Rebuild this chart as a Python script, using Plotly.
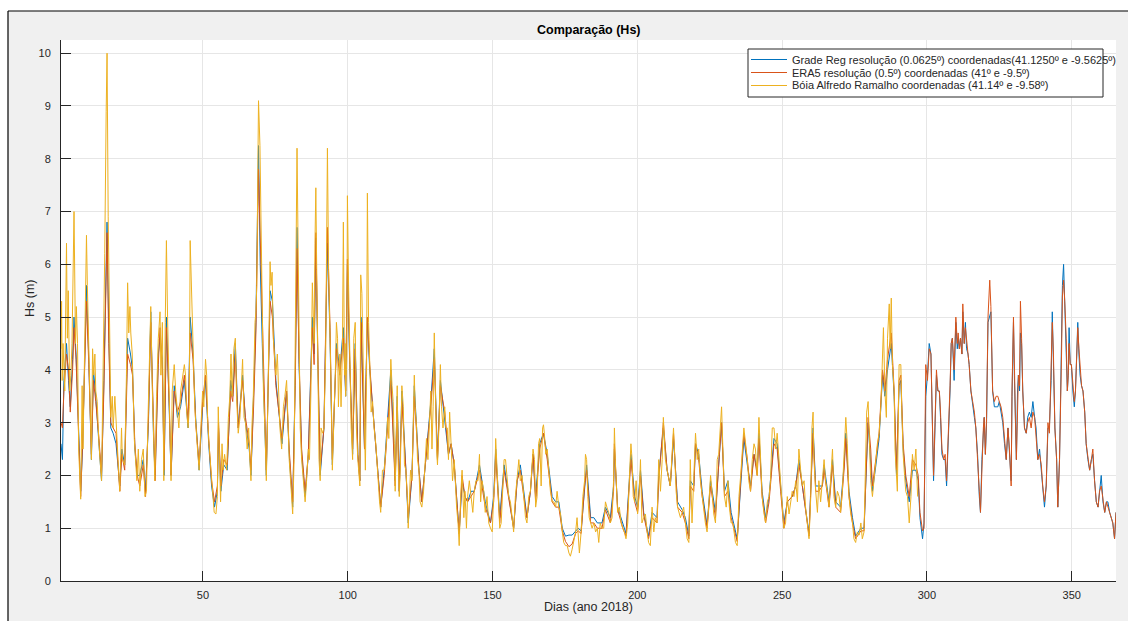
import plotly.graph_objects as go

# ---------------- data ----------------
# Bóia Alfredo Ramalho (buoy): (day, Hs)
buoy_points = [
    (1.0, 4.4), (1.2, 5.3), (1.4, 3.8), (1.7, 4.5), (2.3, 3.6), (2.9, 6.4), (3.2, 4.6), (3.5, 5.5), (4.0, 3.6), (4.4, 3.9),
    (4.8, 4.5), (5.2, 6.1), (5.5, 7.0), (6.0, 4.5), (6.3, 5.2), (6.7, 4.5), (7.1, 2.5), (7.8, 1.55), (8.3, 3.7), (8.6, 2.5),
    (9.2, 4.9), (9.8, 6.55), (10.1, 5.6), (10.4, 4.9), (10.9, 3.6), (11.5, 2.3), (11.9, 4.4), (12.3, 3.9), (12.7, 4.3), (13.0, 3.6),
    (13.5, 3.4), (14.1, 2.6), (15.0, 1.9), (15.8, 4.7), (16.1, 6.2), (16.6, 8.9), (16.9, 10.0), (17.3, 6.9), (17.9, 4.5), (18.2, 3.1),
    (18.7, 3.5), (19.0, 2.9), (19.6, 3.5), (20.2, 2.7), (20.7, 2.3), (21.3, 1.7), (21.9, 2.9), (22.2, 2.3), (23.0, 2.2), (23.6, 3.9),
    (24.0, 5.65), (24.4, 4.7), (24.8, 5.2), (25.1, 4.7), (25.6, 4.3), (26.3, 2.7), (26.7, 2.4), (27.2, 1.9), (27.7, 2.5), (28.2, 1.7),
    (28.8, 2.3), (29.4, 2.5), (30.0, 1.6), (30.5, 1.7), (31.1, 3.2), (31.7, 4.9), (32.0, 5.2), (32.5, 3.7), (33.0, 2.3), (33.4, 1.9),
    (34.0, 3.5), (34.6, 4.6), (35.2, 5.1), (35.5, 3.9), (36.0, 4.9), (36.5, 1.9), (37.0, 4.9), (37.4, 6.45), (37.8, 5.0), (38.4, 3.3),
    (39.0, 1.9), (39.4, 3.6), (40.1, 4.1), (40.6, 3.6), (41.2, 3.2), (41.7, 2.9), (42.3, 3.6), (43.0, 3.9), (43.6, 4.1), (44.0, 3.9),
    (44.4, 3.2), (44.9, 2.9), (45.3, 3.3), (45.6, 6.45), (46.1, 5.6),
    (46.7, 4.3), (47.2, 3.3), (48.0, 2.6), (48.7, 2.1), (49.3, 2.9), (49.9, 3.6), (50.3, 3.3), (50.9, 4.2), (51.3, 3.9), (51.6, 3.1),
    (52.1, 2.6), (52.6, 2.2), (53.3, 1.7), (53.9, 1.3), (54.5, 1.27), (55.0, 1.6), (55.3, 3.3), (55.6, 2.6), (56.1, 1.5), (56.6, 2.6),
    (57.0, 2.1), (57.5, 2.4), (58.2, 2.1), (58.8, 3.1), (59.3, 3.5), (59.7, 4.3), (60.1, 3.5), (60.7, 4.4), (61.2, 4.6), (61.6, 3.5),
    (62.2, 2.8), (62.8, 3.1), (63.4, 4.0), (63.7, 4.2), (64.2, 3.1), (64.7, 3.0), (65.3, 2.5), (65.8, 2.9), (66.2, 2.3), (66.6, 1.9),
    (66.9, 2.9), (67.4, 3.5), (68.0, 4.9), (68.3, 5.1), (68.6, 5.6), (68.9, 7.3), (69.2, 9.1), (69.7, 8.25), (70.1, 6.3), (70.4, 4.9),
    (70.9, 3.6), (71.4, 2.9), (71.9, 1.9), (72.4, 3.3), (72.8, 4.9), (73.2, 6.05), (73.5, 5.6), (73.9, 5.85), (74.3, 4.6), (74.7, 4.3),
    (75.2, 3.9), (75.7, 4.3), (76.3, 3.3), (76.6, 2.9), (77.2, 2.5), (77.8, 3.3), (78.3, 3.5), (78.9, 3.8), (79.4, 3.0), (79.8, 2.3),
    (80.4, 1.8), (81.0, 1.27), (81.5, 2.3), (81.9, 4.3), (82.3, 6.9), (82.5, 8.2), (82.8, 6.7), (83.2, 4.3), (83.6, 2.9), (84.1, 2.3),
    (84.7, 1.8), (85.3, 1.5), (85.8, 1.9), (86.4, 2.5), (86.8, 2.3), (87.3, 3.6), (87.8, 5.65), (88.4, 4.5), (88.7, 6.4), (89.0, 7.45),
    (89.3, 5.9), (89.6, 4.3), (90.1, 2.3), (90.5, 1.9), (90.8, 2.9), (91.3, 2.8), (91.8, 2.9), (92.4, 4.3), (92.8, 6.3), (93.0, 8.2),
    (93.4, 5.9), (93.9, 4.9),
    (94.3, 3.6), (94.7, 2.1), (95.2, 2.9), (95.7, 3.9), (96.1, 4.9), (96.5, 4.6), (96.8, 3.3), (97.3, 4.3), (97.7, 3.3), (98.2, 4.5),
    (98.5, 6.8), (98.9, 3.9), (99.1, 4.5), (99.3, 3.5), (99.7, 4.3), (99.9, 7.3), (100.3, 5.6), (100.7, 4.3), (101.2, 2.9), (101.7, 2.3),
    (102.1, 4.6), (102.6, 4.9), (103.0, 2.9), (103.5, 2.3), (104.2, 1.8), (104.5, 5.8), (104.9, 5.45), (105.3, 4.3), (105.8, 2.4), (106.1, 2.1),
    (106.5, 3.9), (106.8, 7.35), (107.2, 4.9), (107.6, 4.3), (108.1, 3.2), (108.6, 3.4), (109.1, 2.9), (109.7, 2.6), (110.4, 1.9), (111.0, 1.5),
    (111.4, 1.3), (112.0, 2.1), (112.6, 2.1), (113.2, 2.5), (113.8, 3.1), (114.2, 2.7), (114.6, 3.6), (114.9, 4.2), (115.3, 3.7), (115.7, 3.4),
    (116.1, 2.6), (116.4, 1.7), (116.7, 2.6), (117.1, 3.7), (117.4, 2.3), (117.8, 1.6), (118.2, 2.2), (118.7, 3.7), (119.2, 3.3), (119.6, 2.2),
    (120.1, 2.1), (120.6, 1.6), (120.9, 1.0), (121.2, 1.6), (121.7, 2.1), (122.2, 1.9), (122.6, 3.3), (123.0, 3.9), (123.3, 3.3), (123.8, 2.9),
    (124.1, 2.3), (124.6, 2.1), (125.0, 1.5), (125.6, 1.4), (126.2, 1.7), (126.8, 2.2), (127.2, 2.7), (127.7, 2.3), (128.3, 3.1), (128.7, 3.6),
    (129.1, 2.5), (129.5, 3.3), (129.9, 4.7), (130.2, 3.6), (130.7, 2.5), (131.0, 2.2), (131.5, 2.9), (132.0, 4.1), (132.4, 3.3), (132.9, 2.9),
    (133.5, 3.3), (133.9, 2.9), (134.4, 2.9), (134.8, 2.3), (135.2, 3.2), (135.7, 2.6), (136.2, 1.9), (136.8, 2.3), (137.2, 1.7), (137.6, 1.4),
    (138.1, 1.1), (138.5, 0.67), (139.0, 1.6), (139.5, 2.1), (140.1, 1.2), (140.5, 1.7), (141.0, 1.0),
    (141.4, 1.6), (142.0, 1.9), (142.6, 1.6), (143.2, 1.3), (143.7, 1.7), (144.3, 1.9), (145.0, 1.9), (145.5, 2.4), (145.9, 1.5), (146.4, 1.9),
    (147.0, 1.7), (147.5, 1.3), (148.1, 1.6), (148.7, 1.1), (149.3, 1.0), (149.9, 0.93), (150.4, 1.6), (150.8, 1.9), (151.1, 2.7), (151.6, 2.0),
    (152.0, 1.7), (152.5, 1.0), (153.0, 1.1), (153.5, 1.8), (154.0, 2.3), (154.5, 2.3), (155.0, 1.9), (155.6, 1.6), (156.2, 1.5), (156.8, 1.1),
    (157.3, 0.93), (157.9, 1.6), (158.5, 2.0), (159.1, 2.3), (159.6, 1.9), (160.2, 2.0), (160.8, 1.6), (161.4, 1.2), (161.9, 1.1), (162.5, 1.6),
    (163.1, 1.7), (163.7, 2.3), (164.0, 2.5), (164.5, 2.3), (164.9, 1.4), (165.4, 1.6), (165.9, 2.6), (166.3, 2.7), (166.8, 1.8), (167.3, 2.9),
    (167.6, 2.96), (167.9, 2.8), (168.4, 2.4), (168.9, 2.5), (169.4, 2.1), (170.0, 1.7), (170.6, 1.5), (171.2, 1.5), (171.8, 1.4), (172.3, 1.7),
    (172.9, 1.4), (173.5, 1.27), (174.1, 0.93), (174.6, 0.73), (175.2, 0.67), (175.8, 0.67), (176.4, 0.53), (176.9, 0.47), (177.5, 0.6), (178.1, 0.8),
    (178.7, 0.93), (179.2, 1.2), (179.6, 0.93), (180.0, 0.53), (180.6, 0.93), (181.2, 1.6), (181.8, 1.9), (182.1, 2.4), (182.5, 2.3), (182.9, 1.6),
    (183.4, 1.2), (183.9, 1.1), (184.4, 1.0), (185.0, 1.1), (185.6, 0.93), (186.2, 1.0),
    (186.7, 0.73), (187.2, 1.1), (187.8, 1.0), (188.4, 1.0), (189.0, 1.5), (189.5, 1.4), (190.1, 1.3), (190.7, 1.1), (191.3, 1.2), (191.8, 1.9),
    (192.1, 2.9), (192.4, 2.3), (192.8, 1.9), (193.2, 1.3), (193.8, 1.4), (194.4, 1.1), (195.0, 1.0), (195.5, 0.93), (196.1, 0.8), (196.7, 1.1),
    (197.3, 2.0), (197.8, 2.6), (198.2, 2.3), (198.6, 1.6), (199.1, 1.5), (199.6, 1.9), (200.1, 1.27), (200.6, 1.6), (201.1, 2.3), (201.6, 1.1),
    (202.2, 1.2), (202.8, 1.27), (203.4, 0.93), (203.9, 0.73), (204.5, 0.67), (205.1, 1.4), (205.7, 0.93), (206.2, 1.2), (206.8, 1.1), (207.4, 2.3),
    (208.0, 1.7), (208.6, 2.3), (209.0, 3.1), (209.4, 2.6), (209.7, 2.3), (210.3, 2.1), (210.9, 1.9), (211.4, 1.8), (212.0, 2.4), (212.5, 2.9),
    (212.9, 2.4), (213.4, 1.7), (213.9, 1.4), (214.3, 1.3), (214.9, 1.2), (215.5, 1.3), (216.0, 1.4), (216.6, 1.1), (217.2, 0.8), (217.8, 0.73),
    (218.3, 2.3), (218.9, 1.1), (219.5, 1.9), (220.1, 2.8), (220.7, 2.3), (221.2, 2.5), (221.8, 1.9), (222.4, 1.6), (223.0, 1.27), (223.5, 1.1),
    (224.1, 0.93), (224.7, 1.6), (225.3, 2.0), (225.8, 1.7), (226.4, 1.27), (227.0, 1.1), (227.6, 2.3), (228.1, 2.4), (228.7, 2.9), (229.1, 3.3),
    (229.5, 2.6), (230.1, 1.6), (230.7, 1.4), (231.3, 1.9), (231.8, 1.4), (232.4, 1.1), (233.0, 1.1), (233.6, 0.8), (233.9, 0.73),
    (234.5, 0.67), (235.1, 1.6), (235.7, 2.0), (236.2, 2.4), (236.8, 2.9), (237.4, 2.6), (238.0, 2.3), (238.5, 1.9), (239.1, 1.7), (239.7, 2.3),
    (240.3, 2.6), (240.8, 2.5), (241.4, 2.0), (242.0, 3.1), (242.6, 2.3), (243.1, 1.6), (243.7, 1.3), (244.3, 1.1), (244.9, 1.5), (245.5, 1.6),
    (246.0, 1.9), (246.6, 2.9), (247.2, 2.9), (247.8, 2.5), (248.3, 2.8), (248.9, 2.3), (249.5, 1.7), (250.1, 1.3), (250.6, 1.0), (251.2, 1.1),
    (251.8, 1.6), (252.4, 1.27), (252.9, 1.5), (253.5, 1.7), (254.1, 1.6), (254.7, 1.9), (255.3, 1.5), (255.8, 2.5), (256.4, 2.1), (257.0, 1.8),
    (257.6, 1.9), (258.1, 1.4), (258.7, 1.1), (259.3, 0.8), (259.9, 1.6), (260.3, 2.9), (260.7, 3.2), (261.0, 2.3), (261.6, 1.7), (262.2, 1.3),
    (262.7, 1.9), (263.3, 1.5), (263.9, 1.9), (264.5, 2.3), (265.0, 1.9), (265.6, 1.7), (266.2, 1.4), (266.8, 1.9), (267.4, 2.5), (267.9, 1.6),
    (268.5, 1.4), (269.1, 1.7), (269.7, 1.6), (270.2, 1.3), (270.8, 1.7), (271.4, 2.4), (272.0, 3.1), (272.5, 2.6), (273.1, 1.6), (273.7, 1.27),
    (274.3, 1.1), (274.8, 0.8), (275.4, 0.73), (276.0, 0.93), (276.6, 0.87), (277.2, 1.1), (277.7, 0.8), (278.3, 0.93), (278.9, 2.3), (279.2, 3.2),
    (279.7, 3.4), (280.1, 2.6), (280.6, 1.9), (281.2, 1.6), (281.8, 1.9), (282.4, 2.3), (282.9, 2.6), (283.5, 2.8), (284.1, 3.3), (284.7, 4.3),
    (285.0, 4.8), (285.5, 3.6), (286.0, 3.1), (286.4, 4.6), (287.0, 5.25), (287.3, 4.4), (287.7, 5.36), (288.1, 4.1), (288.7, 3.6), (289.0, 2.5),
    (289.5, 1.9), (289.8, 1.7), (290.4, 4.1), (291.0, 4.1), (291.3, 3.3), (291.8, 2.4), (292.3, 2.0), (292.7, 1.7), (293.3, 1.6), (293.9, 1.1),
    (294.5, 1.6), (295.0, 2.4), (295.6, 2.1), (296.2, 2.5), (296.8, 1.6),
]

# Grade Reg (0.0625º) and ERA5 (0.5º): (day, Hs grade, Hs ERA5)
model_points = [
    (1.0, 2.6, 3.0), (1.5, 2.3, 2.9), (2.0, 3.8, 3.6), (2.9, 4.5, 4.3), (3.6, 3.8, 4.0), (4.2, 3.3, 3.2), (5.0, 4.2, 4.0), (5.5, 5.0, 4.8),
    (6.2, 4.3, 4.2), (7.0, 2.8, 2.9), (7.8, 1.7, 1.6), (8.5, 2.6, 2.7), (9.2, 4.2, 4.0), (9.8, 5.6, 5.3), (10.6, 4.2, 4.1), (11.5, 2.3, 2.4),
    (12.2, 4.0, 3.8), (13.0, 3.5, 3.4), (14.1, 2.6, 2.7), (15.0, 1.9, 2.0), (15.8, 3.8, 3.6), (16.5, 5.8, 5.5), (16.9, 6.8, 6.6), (17.5, 4.8, 4.5),
    (18.2, 2.9, 3.0), (19.0, 2.8, 2.9), (20.0, 2.6, 2.8), (21.3, 1.8, 1.7), (22.0, 2.5, 2.4), (23.0, 2.2, 2.1), (24.0, 4.6, 4.3), (25.0, 4.3, 4.1),
    (25.7, 4.0, 3.9), (26.5, 2.5, 2.6), (27.3, 2.0, 2.0), (28.2, 2.0, 1.8), (29.4, 2.3, 2.2), (30.2, 1.7, 1.6), (31.2, 3.0, 3.1), (32.0, 5.1, 4.9),
    (33.0, 2.6, 2.5), (33.5, 2.0, 1.9), (34.6, 4.3, 4.1), (35.2, 4.6, 4.8), (36.0, 4.2, 4.0), (36.6, 2.0, 2.1), (37.4, 5.0, 4.8), (38.4, 3.2, 3.3),
    (39.0, 2.0, 2.0), (40.1, 3.7, 3.6), (41.2, 3.1, 3.2), (42.3, 3.3, 3.4), (43.6, 3.8, 3.9), (44.9, 2.9, 3.0), (45.6, 5.0, 4.7), (46.6, 4.3, 4.2),
    (47.5, 3.1, 3.0), (48.7, 2.1, 2.2), (49.9, 3.3, 3.4), (50.9, 3.8, 3.9), (52.0, 2.6, 2.7), (53.0, 1.8, 1.9), (54.0, 1.4, 1.5), (55.0, 1.7, 1.8),
    (55.4, 2.9, 3.0), (56.2, 1.7, 1.8), (57.2, 2.2, 2.3), (58.4, 2.1, 2.2), (59.6, 3.8, 3.6), (60.3, 3.5, 3.4), (61.2, 4.5, 4.3), (62.2, 2.9, 2.9),
    (63.7, 3.9, 3.8), (64.7, 3.0, 3.1), (66.0, 2.5, 2.6), (66.6, 2.0, 2.1), (67.5, 3.4, 3.3), (68.3, 4.9, 4.7), (69.2, 8.25, 7.8), (69.8, 6.0, 6.5),
    (70.5, 4.5, 4.6), (71.9, 2.0, 2.1), (73.2, 5.5, 5.3), (74.0, 5.3, 5.0), (75.2, 3.8, 3.7), (76.5, 3.0, 3.1), (77.3, 2.6, 2.7), (78.9, 3.6, 3.6),
    (79.8, 2.4, 2.5), (81.0, 1.4, 1.5), (81.9, 3.9, 3.7), (82.5, 6.7, 6.3), (83.2, 4.1, 4.2), (84.1, 2.4, 2.5), (85.3, 1.6, 1.7), (86.4, 2.4, 2.4),
    (87.8, 5.0, 4.8), (88.4, 4.3, 4.1), (89.0, 6.5, 6.6), (89.7, 4.1, 4.3), (90.5, 2.0, 2.1), (91.8, 2.9, 2.9), (93.0, 6.4, 6.7), (93.9, 4.6, 4.8),
    (94.7, 2.2, 2.3), (96.1, 4.5, 4.4), (97.3, 4.0, 3.9), (98.5, 4.8, 4.6), (99.3, 3.5, 3.6), (99.9, 6.0, 6.1), (100.7, 4.1, 4.2), (101.7, 2.4, 2.5),
    (102.6, 4.5, 4.4), (103.5, 2.4, 2.4), (104.2, 1.9, 1.9), (104.6, 5.0, 4.9), (105.8, 2.5, 2.5), (106.8, 5.0, 5.0), (107.6, 4.0, 4.1), (108.6, 3.3, 3.3),
    (109.7, 2.6, 2.6), (111.4, 1.4, 1.4), (112.6, 2.1, 2.0), (113.8, 3.0, 2.9), (114.9, 4.0, 3.8), (116.4, 1.9, 1.8), (117.1, 3.5, 3.3), (117.8, 1.7, 1.7),
    (118.7, 3.6, 3.4), (120.1, 2.1, 2.1), (120.9, 1.1, 1.2), (122.2, 2.0, 2.0), (123.0, 3.7, 3.5), (124.6, 2.1, 2.1), (125.6, 1.5, 1.5), (126.8, 2.2, 2.2),
    (128.7, 3.4, 3.3), (129.9, 4.4, 4.2), (131.0, 2.3, 2.3), (132.0, 3.8, 3.7), (133.5, 3.1, 3.2), (134.8, 2.4, 2.4), (135.7, 2.6, 2.6), (136.8, 2.2, 2.2),
    (138.5, 0.9, 0.9), (139.5, 1.9, 2.0), (140.5, 1.6, 1.6), (141.4, 1.5, 1.5), (142.6, 1.7, 1.6), (143.7, 1.7, 1.7), (145.5, 2.2, 2.1), (146.4, 1.9, 1.8),
    (147.5, 1.5, 1.4), (149.3, 1.1, 1.1), (150.4, 1.6, 1.5), (151.1, 2.5, 2.4), (152.5, 1.2, 1.1), (154.0, 2.2, 2.1), (155.6, 1.6, 1.6), (157.3, 1.0, 1.0),
    (158.5, 1.9, 1.9), (159.6, 2.2, 2.1), (160.8, 1.7, 1.6), (161.9, 1.2, 1.2), (163.1, 1.7, 1.7), (164.0, 2.4, 2.4), (164.9, 1.6, 1.5), (166.3, 2.6, 2.5),
    (167.6, 2.8, 2.8), (168.9, 2.4, 2.3), (170.6, 1.6, 1.5), (171.8, 1.5, 1.4), (172.9, 1.5, 1.4), (174.1, 1.0, 0.95), (175.2, 0.85, 0.75), (176.4, 0.87, 0.65),
    (177.5, 0.87, 0.7), (178.7, 0.95, 0.9), (179.6, 1.0, 0.95), (180.6, 0.95, 0.9), (181.8, 1.8, 1.8), (182.5, 2.2, 2.1), (183.9, 1.2, 1.1), (185.0, 1.2, 1.1),
    (186.2, 1.1, 1.0), (187.8, 1.1, 1.0), (189.0, 1.4, 1.35), (190.7, 1.2, 1.1), (191.8, 1.8, 1.7), (192.1, 2.5, 2.6), (193.2, 1.4, 1.35), (195.0, 1.1, 1.0),
    (196.1, 0.9, 0.85), (197.8, 2.4, 2.3), (199.1, 1.6, 1.5), (200.1, 1.4, 1.3), (201.1, 2.1, 2.0), (202.2, 1.3, 1.25), (203.9, 0.85, 0.8), (205.1, 1.3, 1.2),
    (206.8, 1.2, 1.1), (207.4, 2.0, 1.9), (209.0, 2.9, 3.0), (210.3, 2.1, 2.1), (211.4, 1.8, 1.8), (212.5, 2.7, 2.8), (213.9, 1.5, 1.4), (215.5, 1.35, 1.3),
    (216.6, 1.2, 1.1), (217.8, 0.85, 0.8), (218.3, 1.9, 1.8), (219.5, 1.8, 1.7), (220.1, 2.6, 2.6), (221.2, 2.4, 2.3), (222.4, 1.7, 1.6), (224.1, 1.05, 1.0),
    (225.3, 1.9, 1.8), (227.0, 1.3, 1.2), (228.1, 2.3, 2.2), (229.1, 3.0, 3.0), (230.1, 1.7, 1.6), (231.3, 1.9, 1.7), (232.4, 1.3, 1.2), (233.9, 0.9, 0.85),
    (234.5, 0.8, 0.75), (235.7, 1.8, 1.9), (236.8, 2.7, 2.8), (238.0, 2.2, 2.3), (239.1, 1.8, 1.7), (240.3, 2.4, 2.4), (241.4, 2.1, 2.0), (242.0, 2.8, 2.7),
    (243.1, 1.7, 1.6), (244.3, 1.2, 1.1), (245.5, 1.6, 1.5), (247.2, 2.7, 2.6), (248.3, 2.6, 2.5), (249.5, 1.8, 1.7), (250.6, 1.1, 1.0), (251.8, 1.5, 1.5),
    (253.5, 1.6, 1.6), (254.7, 1.8, 1.8), (255.8, 2.3, 2.2), (257.0, 1.8, 1.8), (258.7, 1.2, 1.1), (259.3, 0.9, 0.85), (260.7, 2.9, 2.8), (261.6, 1.8, 1.7),
    (262.7, 1.8, 1.7), (263.9, 1.8, 1.8), (264.5, 2.2, 2.1), (266.2, 1.5, 1.4), (267.4, 2.3, 2.2), (268.5, 1.5, 1.4), (270.2, 1.4, 1.3), (271.4, 2.2, 2.1),
    (272.0, 2.8, 2.7), (273.1, 1.7, 1.6), (274.3, 1.2, 1.1), (275.4, 0.85, 0.8), (277.2, 1.0, 0.95), (278.3, 1.0, 0.95), (279.7, 3.0, 3.1), (280.6, 2.3, 2.5),
    (281.2, 1.7, 1.8), (282.4, 2.2, 2.3), (283.5, 2.7, 2.8), (284.7, 3.9, 4.0), (285.5, 3.5, 3.6), (286.4, 4.0, 4.2), (287.3, 4.3, 4.5), (287.7, 4.5, 4.7),
    (288.7, 3.5, 3.6), (289.5, 2.0, 2.1), (290.4, 3.7, 3.8), (291.0, 3.8, 3.9), (291.8, 2.5, 2.6), (292.7, 1.9, 2.0), (293.9, 1.5, 1.6), (295.0, 2.1, 2.3),
    (296.2, 2.1, 2.2), (297.0, 1.9, 2.0), (297.6, 1.2, 1.3), (298.2, 0.9, 1.0), (298.5, 0.8, 0.95), (299.0, 1.1, 1.0), (299.6, 3.5, 4.1), (300.2, 3.9, 3.8),
    (300.8, 4.5, 4.4), (301.4, 4.3, 4.3), (302.0, 2.6, 2.6), (302.3, 1.9, 2.0), (302.8, 2.9, 3.0), (303.3, 3.9, 4.0), (303.8, 3.6, 3.6), (304.3, 3.6, 3.6),
    (304.7, 3.1, 3.2), (305.2, 2.4, 2.5), (305.8, 2.3, 2.3), (306.3, 2.3, 2.4), (306.8, 1.8, 1.9), (307.4, 2.6, 2.7), (308.0, 3.6, 3.7), (308.4, 4.5, 4.5),
    (308.8, 4.6, 4.6), (309.1, 4.2, 4.3), (309.4, 3.8, 4.0), (310.0, 4.9, 5.0), (310.5, 4.4, 4.5), (310.8, 4.6, 4.7), (311.2, 4.4, 4.4), (311.6, 4.6, 4.6),
    (312.1, 4.3, 4.3), (312.4, 5.1, 5.25), (312.9, 4.5, 4.5), (313.3, 4.9, 4.8), (313.7, 4.4, 4.5), (314.2, 4.3, 4.3), (314.6, 4.1, 4.1), (315.2, 3.6, 3.6),
    (315.8, 3.3, 3.4), (316.4, 3.1, 3.2), (316.9, 2.9, 2.9), (317.5, 2.4, 2.4), (318.1, 1.6, 1.7), (318.5, 1.3, 1.3), (319.0, 2.3, 2.2), (319.5, 2.9, 2.9),
    (319.8, 3.1, 3.1), (320.2, 2.4, 2.4), (320.6, 3.0, 3.1), (321.1, 4.9, 5.0), (321.7, 5.0, 5.7), (322.1, 5.1, 5.2), (322.7, 3.6, 3.6), (323.3, 3.3, 3.4),
    (323.9, 3.3, 3.5), (324.5, 3.3, 3.5), (325.0, 3.4, 3.4), (325.6, 3.2, 3.3), (326.2, 3.0, 3.1), (326.8, 2.6, 2.6), (327.4, 2.3, 2.3), (328.0, 2.9, 2.9),
    (328.5, 2.5, 2.5), (329.1, 1.9, 1.8), (329.4, 3.5, 3.6), (329.9, 4.9, 5.0), (330.2, 3.9, 3.9), (330.6, 2.9, 3.0), (330.9, 2.3, 2.3), (331.3, 3.6, 3.5),
    (331.6, 3.9, 3.9), (332.0, 3.6, 3.7), (332.3, 4.7, 5.3), (332.7, 4.5, 4.6), (333.1, 3.6, 3.6), (333.7, 2.9, 2.9), (334.3, 2.8, 2.8), (334.8, 3.1, 3.0),
    (335.4, 3.2, 3.1), (336.0, 3.1, 2.9), (336.6, 3.4, 3.2), (337.2, 3.1, 3.1), (337.7, 2.9, 2.8), (338.3, 2.3, 2.3), (338.9, 2.5, 2.4), (339.5, 2.1, 2.2),
    (340.0, 1.7, 1.8), (340.6, 1.4, 1.5), (341.2, 1.8, 1.8), (341.8, 2.9, 3.0), (342.3, 2.9, 2.8), (342.9, 3.8, 3.9), (343.3, 5.1, 4.9), (343.7, 4.3, 4.3),
    (344.2, 2.9, 2.9), (344.8, 2.3, 2.3), (345.2, 1.4, 1.4), (345.8, 2.3, 2.3), (346.1, 3.6, 3.6), (346.5, 4.3, 4.3), (346.8, 5.6, 5.4), (347.2, 6.0, 5.7),
    (347.6, 5.25, 5.3), (348.1, 4.6, 4.6), (348.5, 3.6, 3.6), (348.8, 3.9, 3.9), (349.1, 4.8, 4.5), (349.5, 4.1, 4.1), (349.9, 4.1, 4.1), (350.4, 3.6, 3.7),
    (350.9, 3.3, 3.4), (351.3, 3.6, 3.6), (351.8, 4.5, 4.3), (352.1, 4.9, 4.8), (352.5, 4.3, 4.4), (352.9, 3.9, 4.0), (353.4, 3.7, 3.7), (353.9, 3.6, 3.6),
    (354.5, 3.2, 3.2), (355.0, 2.6, 2.6), (355.6, 2.3, 2.3), (356.2, 2.1, 2.1), (356.8, 2.3, 2.3), (357.3, 2.4, 2.5), (357.9, 1.9, 1.9), (358.5, 1.5, 1.5),
    (359.1, 1.4, 1.4), (359.6, 1.7, 1.7), (360.2, 2.0, 1.8), (360.8, 1.5, 1.5), (361.4, 1.3, 1.3), (362.0, 1.5, 1.5), (362.5, 1.5, 1.4), (363.1, 1.3, 1.3),
    (363.7, 1.2, 1.2), (364.2, 1.1, 1.1), (364.8, 0.8, 0.8), (365.3, 1.3, 1.3),
]

series_names = [
    "Grade Reg resolução (0.0625º) coordenadas(41.1250º e -9.5625º)",
    "ERA5 resolução (0.5º) coordenadas (41º e -9.5º)",
    "Bóia Alfredo Ramalho coordenadas (41.14º e -9.58º)",
]
series_colors = ["#0072BD", "#D95319", "#EDB120"]
x_ticks = [50, 100, 150, 200, 250, 300, 350]
y_ticks = [0, 1, 2, 3, 4, 5, 6, 7, 8, 9, 10]

buoy_days = [p[0] for p in buoy_points]
buoy_hs = [p[1] for p in buoy_points]
model_days = [p[0] for p in model_points]
grade_hs = [p[1] for p in model_points]
era5_hs = [p[2] for p in model_points]

# ---------------- geometry ----------------
W, H = 1128, 621
ML, MR, MT, MB = 61, 12, 40, 40
PW, PH = W - ML - MR, H - MT - MB


def px(x):
    return (x - ML) / PW


def py(y):
    return (H - MB - y) / PH


FONT = "Liberation Sans, Arial, Helvetica, sans-serif"
TXT = "#262626"

fig = go.Figure()
for xs, ys, name, col in [
    (model_days, grade_hs, series_names[0], series_colors[0]),
    (model_days, era5_hs, series_names[1], series_colors[1]),
    (buoy_days, buoy_hs, series_names[2], series_colors[2]),
]:
    fig.add_trace(go.Scatter(x=xs, y=ys, mode="lines", name=name,
                             line=dict(color=col, width=1), showlegend=False,
                             hoverinfo="x+y"))

shapes = []
annotations = []
# figure frame (white outside, black border at left/top)
shapes.append(dict(type="rect", xref="paper", yref="paper", x0=px(-5), x1=px(W + 5), y0=py(11), y1=py(-5),
                   fillcolor="white", line=dict(width=0), layer="above"))
shapes.append(dict(type="rect", xref="paper", yref="paper", x0=px(-5), x1=px(8), y0=py(H + 5), y1=py(-5),
                   fillcolor="white", line=dict(width=0), layer="above"))
shapes.append(dict(type="line", xref="paper", yref="paper", x0=px(8), x1=px(W + 5), y0=py(11), y1=py(11),
                   line=dict(color="black", width=1.2), layer="above"))
shapes.append(dict(type="line", xref="paper", yref="paper", x0=px(8), x1=px(8), y0=py(11), y1=py(H + 5),
                   line=dict(color="black", width=1.2), layer="above"))

# legend box (MATLAB style)
lx0, lx1, ly0, ly1 = 748, 1103, 49, 97
shapes.append(dict(type="rect", xref="paper", yref="paper", x0=px(lx0), x1=px(lx1), y0=py(ly1), y1=py(ly0),
                   fillcolor="white", line=dict(color=TXT, width=1), layer="above"))
rows = [59.5, 72.5, 85.5]
for name, col, ry in zip(series_names, series_colors, rows):
    shapes.append(dict(type="line", xref="paper", yref="paper", x0=px(751), x1=px(787), y0=py(ry), y1=py(ry),
                       line=dict(color=col, width=1), layer="above"))
    annotations.append(dict(xref="paper", yref="paper", x=px(790), y=py(ry), text=name, showarrow=False,
                            xanchor="left", yanchor="middle", font=dict(family=FONT, size=11, color=TXT)))

# title and axis titles
annotations.append(dict(xref="paper", yref="paper", x=px((ML + W - MR) / 2), y=py(30), text="<b>Comparação (Hs)</b>",
                        showarrow=False, xanchor="center", yanchor="middle", font=dict(family=FONT, size=12.5, color="black")))
annotations.append(dict(xref="paper", yref="paper", x=px((ML + W - MR) / 2), y=py(607), text="Dias (ano 2018)",
                        showarrow=False, xanchor="center", yanchor="middle", font=dict(family=FONT, size=12.5, color=TXT)))
annotations.append(dict(xref="paper", yref="paper", x=px(30), y=py(298), text="Hs (m)", textangle=-90,
                        showarrow=False, xanchor="center", yanchor="middle", font=dict(family=FONT, size=12.5, color=TXT)))

fig.update_layout(
    width=W, height=H,
    margin=dict(l=ML, r=MR, t=MT, b=MB, pad=0),
    paper_bgcolor="#f0f0f0", plot_bgcolor="white",
    font=dict(family=FONT, size=11, color=TXT),
    shapes=shapes, annotations=annotations,
    showlegend=False,
)
fig.update_xaxes(range=[1, 365.3], tickvals=x_ticks, ticks="inside", ticklen=10, tickwidth=1, tickcolor=TXT,
                 showline=True, linecolor=TXT, linewidth=1, showgrid=True, gridcolor="#e6e6e6", gridwidth=1,
                 zeroline=False, tickfont=dict(family=FONT, size=11, color=TXT), ticklabelstandoff=4)
fig.update_yaxes(range=[0, 10.25], tickvals=y_ticks, ticks="inside", ticklen=10, tickwidth=1, tickcolor=TXT,
                 showline=True, linecolor=TXT, linewidth=1, showgrid=True, gridcolor="#e6e6e6", gridwidth=1,
                 zeroline=False, tickfont=dict(family=FONT, size=11, color=TXT), ticklabelstandoff=7)

fig.write_html("out.html")
